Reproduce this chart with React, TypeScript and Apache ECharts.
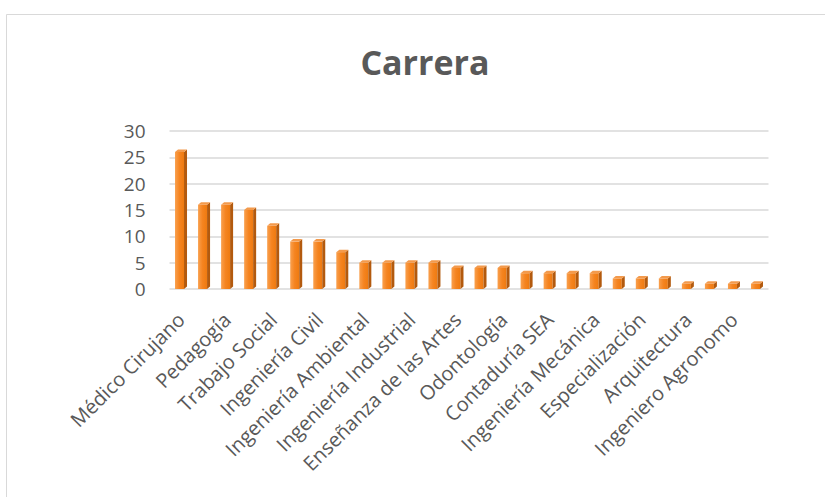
import React, { useEffect, useRef } from "react";
import * as echarts from "echarts";

const titleText = "Carrera";

const categories: string[] = [
  "Médico Cirujano",
  "Enfermería",
  "Pedagogía",
  "Derecho",
  "Trabajo Social",
  "Psicología",
  "Ingeniería Civil",
  "Administración",
  "Ingeniería Ambiental",
  "Ingeniería Química",
  "Ingeniería Industrial",
  "Comunicación",
  "Enseñanza de las Artes",
  "Nutrición",
  "Odontología",
  "Economía",
  "Contaduría SEA",
  "Ingeniería Electrónica",
  "Ingeniería Mecánica",
  "Biología",
  "Especialización",
  "Maestría",
  "Arquitectura",
  "Química",
  "Ingeniero Agronomo",
  "Veterinaria",
];

const values: number[] = [26, 16, 16, 15, 12, 9, 9, 7, 5, 5, 5, 5, 4, 4, 4, 3, 3, 3, 3, 2, 2, 2, 1, 1, 1, 1];

const yTicks: number[] = [0, 5, 10, 15, 20, 25, 30];

export default function App() {
  const ref = useRef<HTMLDivElement>(null);

  useEffect(() => {
    if (!ref.current) return;
    const chart = echarts.init(ref.current, null, { renderer: "svg" });
    const font = "'Open Sans', sans-serif";

    const renderItem = (params: any, api: any) => {
      const idx = api.value(0);
      const val = api.value(1);
      const top = api.coord([idx, val]);
      const base = api.coord([idx, 0]);
      const cx = top[0];
      const left = cx - 6;
      const right = cx + 3;
      const d = 3;
      const dy = 2.5;
      const yTop = top[1];
      const yBot = base[1];
      return {
        type: "group",
        children: [
          {
            type: "rect",
            shape: { x: left, y: yTop, width: right - left, height: yBot - yTop },
            style: {
              fill: new echarts.graphic.LinearGradient(0, 0, 1, 0, [
                { offset: 0, color: "#f9a04e" },
                { offset: 0.5, color: "#f58420" },
                { offset: 1, color: "#ee7a10" },
              ]),
            },
          },
          {
            type: "polygon",
            shape: {
              points: [
                [right, yTop],
                [right + d, yTop - dy],
                [right + d, yBot - dy],
                [right, yBot],
              ],
            },
            style: { fill: "#b35a0e" },
          },
          {
            type: "polygon",
            shape: {
              points: [
                [left, yTop],
                [left + d, yTop - dy],
                [right + d, yTop - dy],
                [right, yTop],
              ],
            },
            style: { fill: "#f39a4c" },
          },
        ],
      };
    };

    chart.setOption({
      animation: false,
      backgroundColor: "#ffffff",
      title: {
        text: titleText,
        left: 420,
        top: 40,
        textAlign: "center",
        textStyle: {
          fontFamily: font,
          fontSize: 34,
          fontWeight: "bold",
          color: "#595959",
        },
      },
      graphic: [
        {
          type: "rect",
          shape: { x: 6.5, y: 14.5, width: 840, height: 500 },
          style: { fill: "none", stroke: "#d9d9d9", lineWidth: 1 },
          silent: true,
        },
      ],
      grid: {
        left: 169.5,
        right: 56.5,
        top: 131,
        bottom: 208,
        containLabel: false,
      },
      xAxis: {
        type: "category",
        data: categories,
        axisLine: { show: false },
        axisTick: { show: false },
        axisLabel: {
          interval: 1,
          rotate: 45,
          margin: 27,
          color: "#595959",
          fontFamily: font,
          fontSize: 20,
        },
      },
      yAxis: {
        type: "value",
        min: yTicks[0],
        max: yTicks[yTicks.length - 1],
        interval: 5,
        axisLine: { show: false },
        axisTick: { show: false },
        splitLine: { show: true, lineStyle: { color: "#d9d9d9", width: 1.5 } },
        axisLabel: {
          margin: 24,
          color: "#595959",
          fontFamily: font,
          fontSize: 19,
        },
      },
      series: [
        {
          type: "custom",
          renderItem,
          encode: { x: 0, y: 1 },
          data: values.map((v, i) => [i, v]),
        },
      ],
    });

    return () => chart.dispose();
  }, []);

  return (
    <div
      ref={ref}
      style={{ position: "fixed", left: 0, top: 0, width: 825, height: 497 }}
    />
  );
}
